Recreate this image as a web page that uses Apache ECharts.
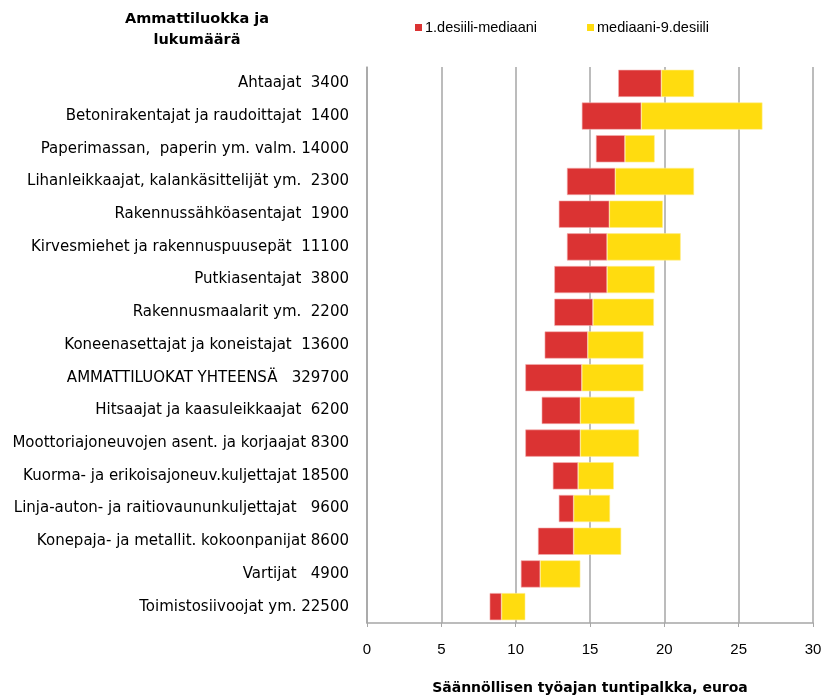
<!DOCTYPE html>
<html>
<head>
<meta charset="utf-8">
<script src="https://cdn.jsdelivr.net/npm/echarts@6/dist/echarts.min.js"></script>
<style>
html,body{margin:0;padding:0;background:#fff;}
#chart{width:824px;height:695px;}
</style>
</head>
<body>
<div id="chart"></div>
<script>
const categories = [
  "Ahtaajat  3400",
  "Betonirakentajat ja raudoittajat  1400",
  "Paperimassan,  paperin ym. valm. 14000",
  "Lihanleikkaajat, kalankäsittelijät ym.  2300",
  "Rakennussähköasentajat  1900",
  "Kirvesmiehet ja rakennuspuusepät  11100",
  "Putkiasentajat  3800",
  "Rakennusmaalarit ym.  2200",
  "Koneenasettajat ja koneistajat  13600",
  "AMMATTILUOKAT YHTEENSÄ   329700",
  "Hitsaajat ja kaasuleikkaajat  6200",
  "Moottoriajoneuvojen asent. ja korjaajat 8300",
  "Kuorma- ja erikoisajoneuv.kuljettajat 18500",
  "Linja-auton- ja raitiovaununkuljettajat   9600",
  "Konepaja- ja metallit. kokoonpanijat 8600",
  "Vartijat   4900",
  "Toimistosiivoojat ym. 22500"
];
const decile1 = [16.9, 14.45, 15.4, 13.45, 12.9, 13.45, 12.6, 12.6, 11.95, 10.65, 11.75, 10.65, 12.5, 12.9, 11.5, 10.35, 8.25];
const median  = [19.8, 18.45, 17.35, 16.7, 16.3, 16.15, 16.15, 15.2, 14.85, 14.45, 14.35, 14.35, 14.2, 13.9, 13.9, 11.65, 9.05];
const decile9 = [22.0, 26.6, 19.35, 22.0, 19.9, 21.1, 19.35, 19.3, 18.6, 18.6, 18.0, 18.3, 16.6, 16.35, 17.1, 14.35, 10.65];
const xTicks = [0, 5, 10, 15, 20, 25, 30];

const redPart = median.map((m, i) => +(m - decile1[i]).toFixed(2));
const yellowPart = decile9.map((d, i) => +(d - median[i]).toFixed(2));

const FONT = "Liberation Sans";
const WIDE = "DejaVu Sans";
const chart = echarts.init(document.getElementById('chart'));
chart.setOption({
  animation: false,
  textStyle: { fontFamily: FONT },
  grid: { left: 367, right: 11, top: 67, bottom: 72, containLabel: false, outerBoundsMode: 'none' },
  legend: {
    top: 15, left: 410,
    itemWidth: 7, itemHeight: 7, itemGap: 50,
    icon: 'rect',
    itemStyle: { borderWidth: 0 },
    textStyle: { fontFamily: FONT, fontSize: 14.5, color: '#000', padding: [0, 0, 0, -2] },
    data: ['1.desiili-mediaani', 'mediaani-9.desiili']
  },
  graphic: [
    { type: 'text', x: 197, y: 9, style: { text: 'Ammattiluokka ja\nlukumäärä', font: 'bold 14.5px "' + WIDE + '"', fill: '#000', textAlign: 'center', lineHeight: 21 } }
  ],
  xAxis: {
    type: 'value', min: xTicks[0], max: xTicks[xTicks.length - 1], interval: 5,
    axisLine: { show: true, lineStyle: { color: '#a6a6a6', width: 1.5 } },
    axisTick: { show: true, length: 4, lineStyle: { color: '#a6a6a6' } },
    splitLine: { show: true, lineStyle: { color: '#a6a6a6', width: 1.5 } },
    axisLabel: { color: '#000', fontSize: 15, margin: 19, fontFamily: FONT },
    name: 'Säännöllisen työajan tuntipalkka, euroa',
    nameLocation: 'middle', nameGap: 58,
    nameTextStyle: { fontWeight: 'bold', fontSize: 14, color: '#000', fontFamily: WIDE }
  },
  yAxis: {
    type: 'category', data: categories, inverse: true,
    axisLine: { show: true, lineStyle: { color: '#a6a6a6', width: 1.5 } },
    axisTick: { show: false },
    axisLabel: { color: '#000', fontSize: 15, margin: 18, fontFamily: WIDE }
  },
  series: [
    { name: 'base', type: 'bar', stack: 's', data: decile1, itemStyle: { color: 'transparent' }, barCategoryGap: '17%', silent: true },
    { name: '1.desiili-mediaani', type: 'bar', stack: 's', data: redPart, itemStyle: { color: '#DB3333', borderColor: '#f3b0b0', borderWidth: 0.6 } },
    { name: 'mediaani-9.desiili', type: 'bar', stack: 's', data: yellowPart, itemStyle: { color: '#FFDC0F', borderColor: '#ffee90', borderWidth: 0.6 } }
  ]
});
</script>
</body>
</html>
